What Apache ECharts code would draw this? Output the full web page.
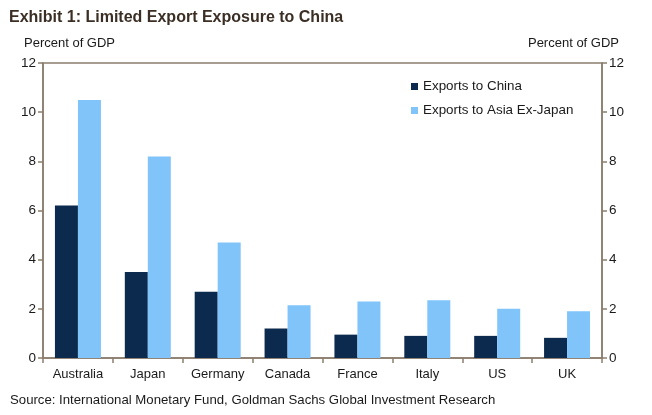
<!DOCTYPE html>
<html><head><meta charset="utf-8">
<script src="https://cdn.jsdelivr.net/npm/echarts@6/dist/echarts.min.js"></script>
<style>html,body{margin:0;padding:0;background:#fff}#c{width:652px;height:415px}</style>
</head><body><div id="c"></div>
<script>
const categories = ["Australia","Japan","Germany","Canada","France","Italy","US","UK"];
const exportsChina = [6.2,3.5,2.7,1.2,0.95,0.9,0.9,0.82];
const exportsAsiaExJapan = [10.5,8.2,4.7,2.15,2.3,2.35,2.0,1.9];
const yTicks = [0,2,4,6,8,10,12];

const FONT = '"Liberation Sans", Arial, sans-serif';
const AX = '#8a7d6c';
const TXT = '#1a1a1a';
const chart = echarts.init(document.getElementById('c'), null, {renderer:'canvas'});
const yAxisBase = (pos) => ({
  type:'value', position:pos, min:yTicks[0], max:yTicks[yTicks.length-1], interval:2,
  axisLine:{show:true, lineStyle:{color:AX, width:1.5}},
  axisTick:{show:true, length:5, lineStyle:{color:AX, width:1.5}},
  splitLine:{show:false},
  axisLabel:{color:TXT, fontFamily:FONT, fontSize:13.5, margin:7}
});
chart.setOption({
  animation:false,
  textStyle:{fontFamily:FONT},
  title:[
    {text:'Exhibit 1: Limited Export Exposure to China', left:4, top:5,
     textStyle:{fontFamily:FONT, fontSize:16, fontWeight:'bold', color:'#3b2f25'}},
    {text:'Source: International Monetary Fund, Goldman Sachs Global Investment Research', left:5, top:389,
     textStyle:{fontFamily:FONT, fontSize:13.2, fontWeight:'normal', color:TXT}}
  ],
  graphic:[
    {type:'text', left:24, top:37, style:{text:'Percent of GDP', font:'13px "Liberation Sans", Arial', fill:TXT}},
    {type:'text', right:33, top:37, style:{text:'Percent of GDP', font:'13px "Liberation Sans", Arial', fill:TXT}}
  ],
  legend:{
    orient:'vertical', left:406, top:75, itemWidth:7, itemHeight:7, itemGap:11, icon:'rect',
    textStyle:{fontFamily:FONT, fontSize:13.4, color:TXT},
    data:['Exports to China','Exports to Asia Ex-Japan']
  },
  grid:{left:43, right:50, top:63, bottom:57, show:true, borderColor:AX, borderWidth:1.5, backgroundColor:'transparent'},
  xAxis:{
    type:'category', data:categories,
    axisLine:{lineStyle:{color:AX, width:1.5}},
    axisTick:{show:true, alignWithLabel:false, length:5, lineStyle:{color:AX, width:1.5}},
    axisLabel:{color:TXT, fontFamily:FONT, fontSize:13, margin:10}
  },
  yAxis:[yAxisBase('left'), yAxisBase('right')],
  series:[
    {name:'Exports to China', type:'bar', data:exportsChina, itemStyle:{color:'#0b2a4d'},
     barWidth:23, barGap:'0%'},
    {name:'Exports to Asia Ex-Japan', type:'bar', data:exportsAsiaExJapan, itemStyle:{color:'#80c4fa'},
     barWidth:23}
  ]
});
</script>
</body></html>
